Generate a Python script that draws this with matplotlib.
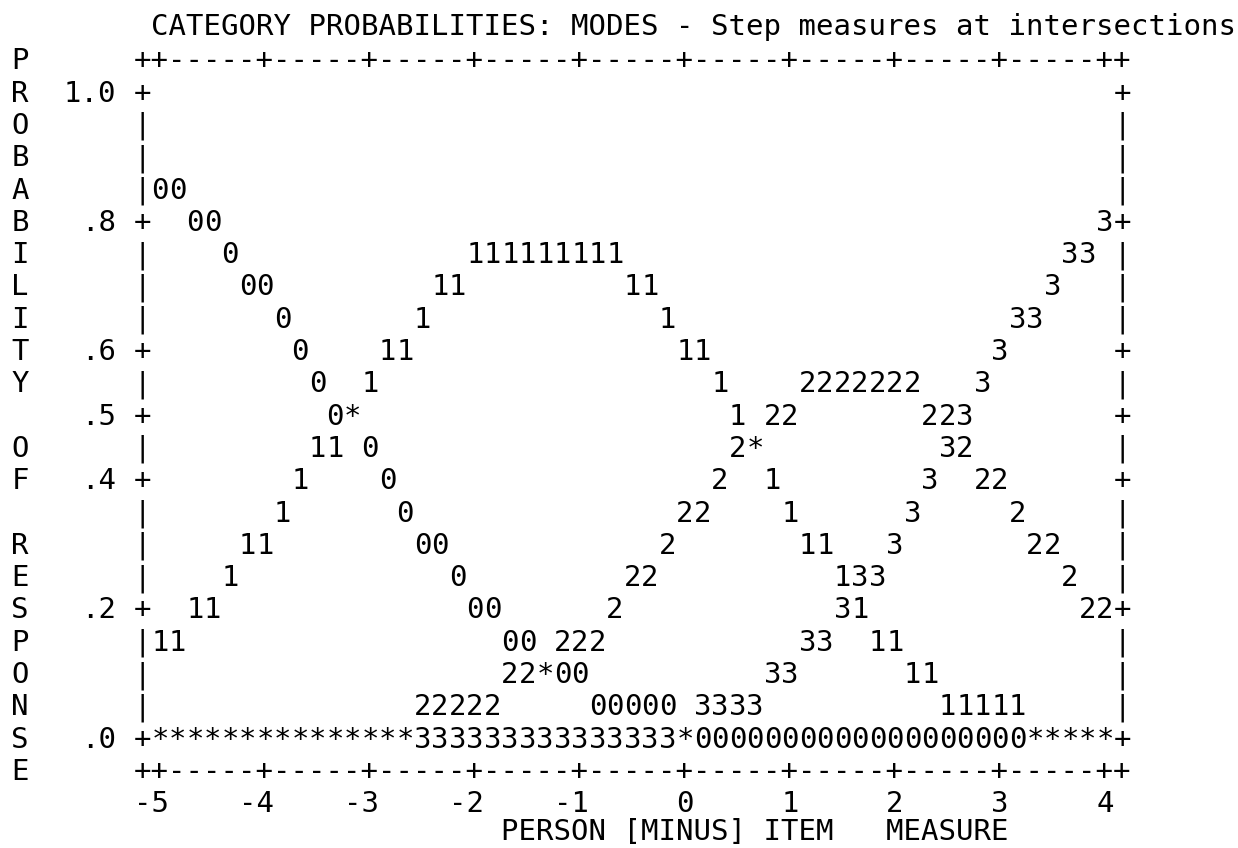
import matplotlib
matplotlib.use("Agg")
import matplotlib.pyplot as plt
from matplotlib.transforms import offset_copy

# text of the chart
title = "CATEGORY PROBABILITIES: MODES - Step measures at intersections"
y_title = "PROBABILITY OF RESPONSE"
x_title = "PERSON [MINUS] ITEM   MEASURE"

# x axis: person minus item measure, 6 text columns per logit
x_ticks = [-5, -4, -3, -2, -1, 0, 1, 2, 3, 4]
cols_per_unit = 6

# y axis: probability, one text row per 0.05
y_ticks = [1.0, 0.8, 0.6, 0.5, 0.4, 0.2, 0.0]
y_tick_labels = ["1.0", ".8", ".6", ".5", ".4", ".2", ".0"]
row_step = 0.05

categories = ["0", "1", "2", "3"]

# probability of each category at every plot column, -5 .. 4
prob_0 = [.85, .85, .80, .80, .75, .70, .70, .65, .60, .55,
          .50, .50, .45, .40, .35, .30, .30, .25, .20, .20,
          .15, .15, .10, .10, .10, .05, .05, .05, .05, .05,
          0, 0, 0, 0, 0, 0, 0, 0, 0, 0,
          0, 0, 0, 0, 0, 0, 0, 0, 0, 0,
          0, 0, 0, 0, 0]
prob_1 = [.15, .15, .20, .20, .25, .30, .30, .35, .40, .45,
          .45, .50, .55, .60, .60, .65, .70, .70, .75, .75,
          .75, .75, .75, .75, .75, .75, .75, .70, .70, .65,
          .60, .60, .55, .50, .45, .40, .35, .30, .30, .25,
          .20, .15, .15, .10, .10, .05, .05, .05, .05, .05,
          0, 0, 0, 0, 0]
prob_2 = [0, 0, 0, 0, 0, 0, 0, 0, 0, 0,
          0, 0, 0, 0, 0, .05, .05, .05, .05, .05,
          .10, .10, .10, .15, .15, .15, .20, .25, .25, .30,
          .35, .35, .40, .45, .45, .50, .50, .55, .55, .55,
          .55, .55, .55, .55, .50, .50, .45, .40, .40, .35,
          .30, .30, .25, .20, .20]
prob_3 = [0, 0, 0, 0, 0, 0, 0, 0, 0, 0,
          0, 0, 0, 0, 0, 0, 0, 0, 0, 0,
          0, 0, 0, 0, 0, 0, 0, 0, 0, 0,
          0, .05, .05, .05, .05, .10, .10, .15, .15, .20,
          .25, .25, .30, .35, .40, .45, .50, .55, .60, .65,
          .65, .70, .75, .75, .80]
probs = [prob_0, prob_1, prob_2, prob_3]

cell = 1 / cols_per_unit
measures = [x_ticks[0] + j * cell for j in range(len(prob_0))]

fig = plt.figure(figsize=(12.38, 8.48), dpi=100)
ax = fig.add_axes([0, 0, 1, 1])
ax.set_axis_off()
# 105 px per logit, -5 sits at 160 px; 646 px per unit of probability, 0 at 737 px from top
ax.set_xlim(x_ticks[0] - 160 / 105, x_ticks[0] + (1238 - 160) / 105)
ax.set_ylim(-(848 - 737) / 646, 737 / 646)

font = dict(family="DejaVu Sans Mono", fontsize=20.93, color="black")


def put(x, y, s, dy=0):
    # x is the centre of the first character cell, y the middle of the row
    tr = offset_copy(ax.transData, fig=fig, y=-10.6 + dy, units="dots")
    ax.text(x - cell / 2, y, s, transform=tr, ha="left", va="baseline", **font)


x_left = x_ticks[0] - cell
x_right = x_ticks[-1] + cell

# title
put(x_ticks[0], 22 * row_step, title, dy=2)

# top and bottom axis lines
n = round((x_right - x_left) * cols_per_unit) + 1
axis_chars = ["-"] * n
axis_chars[0] = axis_chars[-1] = "+"
for t in x_ticks:
    axis_chars[round((t - x_left) * cols_per_unit)] = "+"
axis_line = "".join(axis_chars)
put(x_left, 21 * row_step, axis_line)
put(x_left, -1 * row_step, axis_line)

# side borders with ticks
tick_levels = [round(v / row_step) for v in y_ticks]
for lev in range(0, 21):
    ch = "+" if lev in tick_levels else "|"
    put(x_left, lev * row_step, ch)
    put(x_right, lev * row_step, ch)

for v, lbl in zip(y_ticks, y_tick_labels):
    put(x_left - (len(lbl) + 1) * cell, v, lbl)

# vertical axis title, one letter per row
for i, ch in enumerate(y_title):
    if ch != " ":
        put(x_left - 7 * cell, (21 - i) * row_step, ch)

# x tick labels, right aligned under the ticks
for t in x_ticks:
    lbl = str(t)
    put(t - (len(lbl) - 1) * cell, -2 * row_step, lbl)

put(x_ticks[0] + 20 * cell, -3 * row_step, x_title, dy=5)

# category curves; '*' where two categories share a cell
cells = {}
for k, p in enumerate(probs):
    for j, v in enumerate(p):
        cells.setdefault((j, round(v / row_step)), []).append(k)
for (j, lev), ks in cells.items():
    ch = categories[ks[0]] if len(ks) == 1 else "*"
    put(measures[j], lev * row_step, ch)

fig.savefig("out.png", dpi=100)
